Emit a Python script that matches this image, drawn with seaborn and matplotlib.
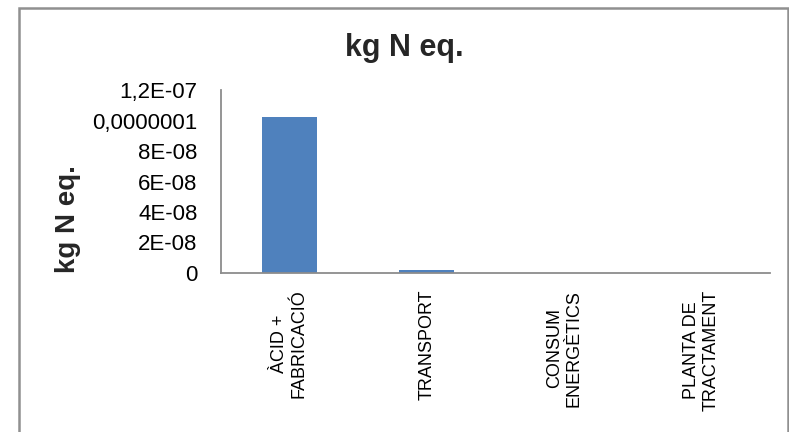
import matplotlib
matplotlib.use("Agg")
import matplotlib.pyplot as plt
from matplotlib.patches import Rectangle
import seaborn as sns
import pandas as pd

categories = ["ÀCID +\nFABRICACIÓ", "TRANSPORT", "CONSUM\nENERGÈTICS", "PLANTA DE\nTRACTAMENT"]
values = [1.02e-7, 1.8e-9, 0.0, 0.0]
ytick_values = [0, 2e-8, 4e-8, 6e-8, 8e-8, 1e-7, 1.2e-7]
ytick_labels = ["0", "2E-08", "4E-08", "6E-08", "8E-08", "0,0000001", "1,2E-07"]
title = "kg N eq."
ylabel = "kg N eq."

sns.set_theme(style="white")
plt.rcParams["font.family"] = ["Liberation Sans", "DejaVu Sans"]

W, H = 789, 432
fig = plt.figure(figsize=(W / 100, H / 100), dpi=100)
ax = fig.add_axes([221 / W, 1 - 273 / H, (770 - 221) / W, (273 - 90) / H])

df = pd.DataFrame({"cat": categories, "val": values})
sns.barplot(data=df, x="cat", y="val", color="#4F81BD", saturation=1,
            width=0.4, ax=ax, edgecolor="none")

ax.set_ylim(0, 1.2e-7)
ax.set_xlim(-0.5, len(categories) - 0.5)
ax.set_yticks(ytick_values)
ax.set_yticklabels(ytick_labels, fontsize=16, color="black")
ax.set_xticks(range(len(categories)))
ax.set_xticklabels(categories, rotation=90, fontsize=13, color="black",
                   ha="center", va="top", multialignment="center")
ax.tick_params(axis="y", length=0, pad=17)
ax.tick_params(axis="x", length=0, pad=12)
ax.set_xlabel("")
ax.set_ylabel("")

for side in ["top", "right"]:
    ax.spines[side].set_visible(False)
for side in ["left", "bottom"]:
    ax.spines[side].set_color("#8c8c8c")
    ax.spines[side].set_linewidth(1.3)

fig.text(404 / W, 1 - 48 / H, title, fontsize=22, fontweight="bold",
         ha="center", va="center")
fig.text(68 / W, 1 - 219 / H, ylabel, fontsize=20, fontweight="bold",
         ha="center", va="center", rotation=90)

# Chart-area frame (open at the bottom edge of the image)
fig.patches.append(Rectangle((18.5 / W, -0.05), (787.5 - 18.5) / W, 1.05 - 7.5 / H,
                             transform=fig.transFigure, fill=False,
                             edgecolor="#909090", linewidth=1.8))

fig.savefig("out.png", dpi=100, facecolor="white")
